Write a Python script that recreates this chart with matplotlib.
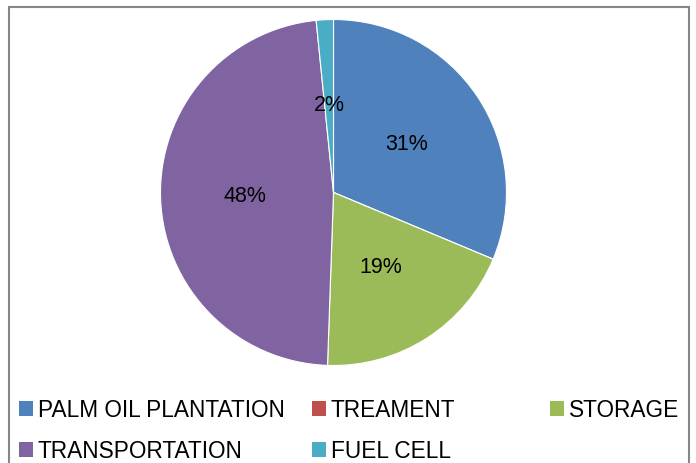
import matplotlib
matplotlib.use("Agg")
import matplotlib.pyplot as plt
from matplotlib.patches import Patch, Rectangle

categories = ["PALM OIL PLANTATION", "TREAMENT", "STORAGE", "TRANSPORTATION", "FUEL CELL"]
values = [31.3, 0, 19.25, 47.85, 1.6]
colors = ["#4F81BD", "#C0504D", "#9BBB59", "#8064A2", "#4BACC6"]

W, H = 696, 464
plt.rcParams['font.family'] = ['Liberation Sans', 'DejaVu Sans']
fig = plt.figure(figsize=(W / 100, H / 100), dpi=100)

cx, cy, R = 333.5, 193.5, 173
ax = fig.add_axes([(cx - R) / W, 1 - (cy + R) / H, 2 * R / W, 2 * R / H])

def fmt(p):
    return f"{p:.0f}%" if p >= 0.5 else ""

wedges, texts, autotexts = ax.pie(
    values, colors=colors, startangle=90, counterclock=False,
    autopct=fmt, pctdistance=0.51, radius=1.0,
    wedgeprops=dict(edgecolor="white", linewidth=0.8),
    textprops=dict(fontsize=15.5, color="black"))
ax.set_xlim(-1, 1)
ax.set_ylim(-1, 1)
ax.set_aspect("equal")
ax.axis("off")

# chart border
fig.add_artist(Rectangle((9 / W, -0.1), (689 - 9) / W, 1.1 - 8 / H,
                         transform=fig.transFigure, fill=False,
                         edgecolor="#868686", linewidth=1.5))

# legend entries (Excel-style irregular layout)
legend_pos = [(19, 411), (312, 411), (550, 411), (19, 452), (312, 452)]
for cat, col, (lx, ly) in zip(categories, colors, legend_pos):
    fig.legend(handles=[Patch(facecolor=col, edgecolor="none")], labels=[cat],
               loc="center left", bbox_to_anchor=(lx / W, 1 - ly / H),
               frameon=False, borderpad=0, borderaxespad=0,
               handlelength=0.6, handleheight=0.6, handletextpad=0.22,
               fontsize=16.3)

fig.savefig("out.png", dpi=100)
